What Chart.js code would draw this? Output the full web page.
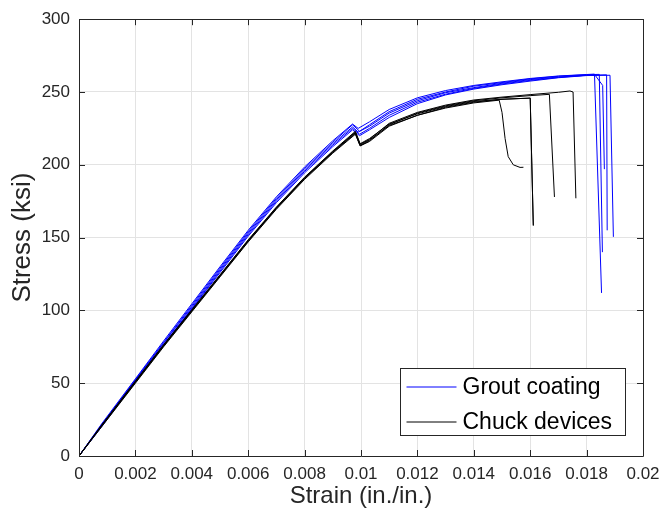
<!DOCTYPE html>
<html>
<head>
<meta charset="utf-8">
<script src="https://cdn.jsdelivr.net/npm/chart.js@4.4.1/dist/chart.umd.min.js"></script>
<style>
  html, body { margin: 0; padding: 0; background: #ffffff; }
  canvas { display: block; }
</style>
</head>
<body>
<canvas id="chart" width="660" height="517"></canvas>
<script>
// Grout coating specimens (blue)
const groutStrain1 = [0, 0.0008, 0.002, 0.003, 0.004, 0.005, 0.006, 0.007, 0.008, 0.009, 0.0097, 0.0099, 0.0103, 0.011, 0.012, 0.013, 0.014, 0.015, 0.016, 0.017, 0.018, 0.01828, 0.01853];
const groutStress1 = [0, 22, 53, 79, 104.5, 130, 155, 178, 198.5, 216.5, 228, 225, 229.5, 238, 246, 251, 254.5, 257, 259.3, 261, 262, 262.3, 112];
const groutStrain2 = [0, 0.0008, 0.002, 0.003, 0.004, 0.005, 0.006, 0.007, 0.008, 0.009, 0.0097, 0.00995, 0.0103, 0.011, 0.012, 0.013, 0.014, 0.015, 0.016, 0.017, 0.018, 0.01845, 0.01856];
const groutStress2 = [0, 21.5, 52.5, 78, 103.5, 129, 154, 177, 197.5, 215.5, 227.5, 223, 227.5, 236.5, 245, 250, 254, 256.5, 259, 260.8, 261.9, 262.1, 140];
const groutStrain3 = [0, 0.0008, 0.002, 0.003, 0.004, 0.005, 0.006, 0.007, 0.008, 0.009, 0.0097, 0.0099, 0.0103, 0.011, 0.012, 0.013, 0.014, 0.015, 0.016, 0.017, 0.018, 0.0183, 0.01857, 0.01863];
const groutStress3 = [0, 21, 52, 77.5, 102.5, 128, 153, 176, 196.5, 214.5, 226, 222.5, 226.5, 235.5, 244, 249.5, 253, 256, 258.5, 260.3, 261.5, 261.6, 254.5, 197];
const groutStrain4 = [0, 0.0008, 0.002, 0.003, 0.004, 0.005, 0.006, 0.007, 0.008, 0.009, 0.0097, 0.00995, 0.0103, 0.011, 0.012, 0.013, 0.014, 0.015, 0.016, 0.017, 0.018, 0.01871, 0.01873];
const groutStress4 = [0, 20.5, 51.5, 76.5, 101.5, 127, 152, 175, 195.5, 213.5, 225, 221, 225, 234, 243, 248.5, 252.5, 255.5, 258, 260, 261.5, 261.8, 155];
const groutStrain5 = [0, 0.0008, 0.002, 0.003, 0.004, 0.005, 0.006, 0.007, 0.008, 0.009, 0.0097, 0.00995, 0.0103, 0.011, 0.012, 0.013, 0.014, 0.015, 0.016, 0.017, 0.018, 0.01883, 0.01895];
const groutStress5 = [0, 20, 51, 76, 101, 126, 151, 174, 194.5, 212.5, 224, 220, 224, 232.5, 242, 248, 252, 255, 257.5, 259.8, 261.3, 261.5, 150.5];

// Chuck device specimens (black)
const chuckStrain1 = [0, 0.0008, 0.002, 0.003, 0.004, 0.005, 0.006, 0.007, 0.008, 0.009, 0.0098, 0.00997, 0.0103, 0.011, 0.012, 0.013, 0.014, 0.0149, 0.015, 0.01511, 0.01522, 0.0154, 0.01564, 0.01576];
const chuckStress1 = [0, 21, 51, 76, 100, 124, 148, 170.5, 191, 209, 222, 213.5, 217, 227, 234, 239, 242.5, 244.4, 236, 218, 205.6, 200, 198.2, 198.3];
const chuckStrain2 = [0, 0.0008, 0.002, 0.003, 0.004, 0.005, 0.006, 0.007, 0.008, 0.009, 0.0098, 0.00997, 0.0103, 0.011, 0.012, 0.013, 0.014, 0.015, 0.016, 0.01611];
const chuckStress2 = [0, 21, 51.5, 76.5, 100.5, 124.5, 148.5, 171, 191.5, 209.5, 223, 214.5, 218, 228, 235, 240, 243.5, 245, 245.8, 158.3];
const chuckStrain3 = [0, 0.0008, 0.002, 0.003, 0.004, 0.005, 0.006, 0.007, 0.008, 0.009, 0.0098, 0.00997, 0.0103, 0.011, 0.012, 0.013, 0.014, 0.015, 0.016, 0.01668, 0.01686];
const chuckStress3 = [0, 20.5, 50.5, 75.5, 99.5, 123.5, 147.5, 170, 190.5, 208.5, 221.5, 213, 216.5, 227.5, 235.5, 240.5, 244, 246, 247.5, 248.4, 177.9];
const chuckStrain4 = [0, 0.0008, 0.002, 0.003, 0.004, 0.005, 0.006, 0.007, 0.008, 0.009, 0.0098, 0.00997, 0.0103, 0.011, 0.012, 0.013, 0.014, 0.015, 0.016, 0.017, 0.01741, 0.01752, 0.01762];
const chuckStress4 = [0, 21, 51, 76, 100, 124, 148, 170.5, 191, 209, 222.5, 214, 217.5, 228.5, 236, 241, 244.5, 246.5, 248.2, 249.8, 250.7, 250, 177];
const chuckStrain5 = [0, 0.0008, 0.002, 0.003, 0.004, 0.005, 0.006, 0.007, 0.008, 0.009, 0.0098, 0.00997, 0.0103, 0.011, 0.012, 0.013, 0.014, 0.015, 0.016, 0.01611];
const chuckStress5 = [0, 20, 50, 75, 99, 123, 147, 169.5, 190, 208, 221, 213, 216, 226.5, 234, 239.5, 243, 245, 245.8, 158.3];

const xTickValues = [0, 0.002, 0.004, 0.006, 0.008, 0.01, 0.012, 0.014, 0.016, 0.018, 0.02];
const xTickLabels = ['0', '0.002', '0.004', '0.006', '0.008', '0.01', '0.012', '0.014', '0.016', '0.018', '0.02'];
const yTickValues = [0, 50, 100, 150, 200, 250, 300];
const yTickLabels = ['0', '50', '100', '150', '200', '250', '300'];
const legendLabels = ['Grout coating', 'Chuck devices'];

const BLUE = '#0000ff';
const BLACK = '#000000';
const AXIS = '#262626';
const FONT = "'Liberation Sans', Arial, sans-serif";

function toPoints(xs, ys) {
    return xs.map((x, i) => ({ x: x, y: ys[i] }));
}

const groutCurves = [
    [groutStrain1, groutStress1],
    [groutStrain2, groutStress2],
    [groutStrain3, groutStress3],
    [groutStrain4, groutStress4],
    [groutStrain5, groutStress5]
];
const chuckCurves = [
    [chuckStrain1, chuckStress1],
    [chuckStrain2, chuckStress2],
    [chuckStrain3, chuckStress3],
    [chuckStrain4, chuckStress4],
    [chuckStrain5, chuckStress5]
];

const datasets = [];
groutCurves.forEach(function (c, i) {
    datasets.push({ label: legendLabels[0] + ' ' + (i + 1), data: toPoints(c[0], c[1]), borderColor: BLUE, order: 2 });
});
chuckCurves.forEach(function (c, i) {
    datasets.push({ label: legendLabels[1] + ' ' + (i + 1), data: toPoints(c[0], c[1]), borderColor: BLACK, order: 1 });
});

// box, inward tick marks and legend, matlab style
const framePlugin = {
    id: 'frame',
    afterDraw: function (chart) {
        const ctx = chart.ctx;
        const a = chart.chartArea;
        const xs = chart.scales.x;
        const ys = chart.scales.y;
        const tick = 6;
        ctx.save();
        ctx.strokeStyle = AXIS;
        ctx.lineWidth = 1;
        ctx.beginPath();
        ctx.rect(Math.round(a.left) + 0.5, Math.round(a.top) + 0.5, Math.round(a.right - a.left), Math.round(a.bottom - a.top));
        xTickValues.forEach(function (v) {
            const px = Math.round(xs.getPixelForValue(v)) + 0.5;
            ctx.moveTo(px, a.bottom);
            ctx.lineTo(px, a.bottom - tick);
            ctx.moveTo(px, a.top);
            ctx.lineTo(px, a.top + tick);
        });
        yTickValues.forEach(function (v) {
            const py = Math.round(ys.getPixelForValue(v)) + 0.5;
            ctx.moveTo(a.left, py);
            ctx.lineTo(a.left + tick, py);
            ctx.moveTo(a.right, py);
            ctx.lineTo(a.right - tick, py);
        });
        ctx.stroke();

        // legend
        const lx = Math.round(a.right) - 17.5;
        const by = Math.round(a.bottom) - 20.5;
        const w = 225, h = 67;
        ctx.fillStyle = '#ffffff';
        ctx.fillRect(lx - w, by - h, w, h);
        ctx.strokeStyle = AXIS;
        ctx.strokeRect(lx - w, by - h, w, h);
        const colors = [BLUE, BLACK];
        ctx.font = '23px ' + FONT;
        ctx.textBaseline = 'middle';
        ctx.textAlign = 'left';
        legendLabels.forEach(function (label, i) {
            // integer y: soft 2px sample like the anti-aliased original
            const rowY = Math.round(by - h + 18 + i * 35);
            ctx.strokeStyle = colors[i];
            ctx.beginPath();
            ctx.moveTo(lx - w + 6, rowY);
            ctx.lineTo(lx - w + 56, rowY);
            ctx.stroke();
            ctx.fillStyle = '#000000';
            ctx.fillText(label, lx - w + 62, rowY + 1);
        });
        ctx.restore();
    }
};

new Chart(document.getElementById('chart'), {
    type: 'scatter',
    data: { datasets: datasets },
    options: {
        responsive: false,
        animation: false,
        showLine: true,
        layout: { padding: { top: 12, right: 17, left: 0, bottom: 0 } },
        elements: {
            point: { radius: 0, hoverRadius: 0 },
            line: { borderWidth: 1, tension: 0, fill: false }
        },
        plugins: {
            legend: { display: false },
            tooltip: { enabled: false }
        },
        scales: {
            x: {
                type: 'linear',
                min: 0,
                max: 0.02,
                afterFit: function (scale) {
                    scale.height = 61;
                    scale.paddingLeft = 0;
                    scale.paddingRight = 0;
                },
                afterBuildTicks: function (scale) { scale.ticks = xTickValues.map(v => ({ value: v })); },
                grid: { color: '#e3e3e3', drawTicks: false },
                border: { display: false },
                ticks: {
                    padding: 8,
                    color: AXIS,
                    font: { family: FONT, size: 17 },
                    maxRotation: 0,
                    callback: function (value, index) { return xTickLabels[index]; }
                },
                title: {
                    display: true,
                    text: 'Strain (in./in.)',
                    color: AXIS,
                    font: { family: FONT, size: 24 },
                    padding: { top: 0, bottom: 6 }
                }
            },
            y: {
                type: 'linear',
                min: 0,
                max: 300,
                afterFit: function (scale) { scale.width = 79; },
                afterBuildTicks: function (scale) { scale.ticks = yTickValues.map(v => ({ value: v })); },
                grid: { color: '#e3e3e3', drawTicks: false },
                border: { display: false },
                ticks: {
                    padding: 9,
                    color: AXIS,
                    font: { family: FONT, size: 17 },
                    callback: function (value, index) { return yTickLabels[index]; }
                },
                title: {
                    display: true,
                    text: 'Stress (ksi)',
                    color: AXIS,
                    font: { family: FONT, size: 26 },
                    padding: { top: 7, bottom: 0 }
                }
            }
        }
    },
    plugins: [framePlugin]
});
</script>
</body>
</html>
